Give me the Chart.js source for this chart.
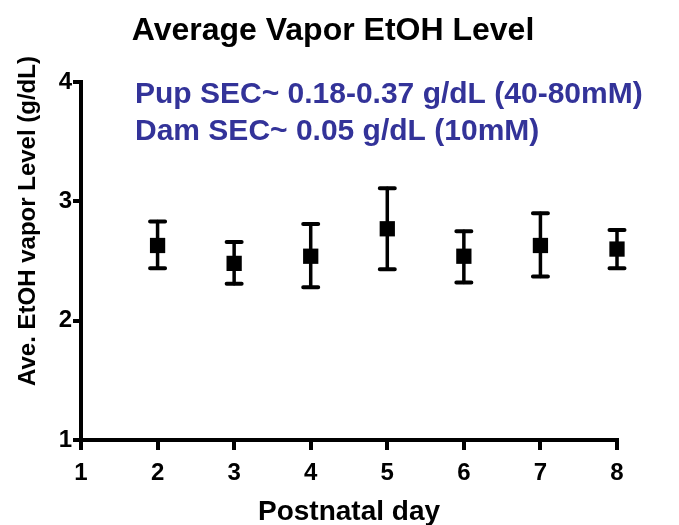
<!DOCTYPE html>
<html>
<head>
<meta charset="utf-8">
<script src="https://cdn.jsdelivr.net/npm/chart.js@4.4.1/dist/chart.umd.min.js"></script>
<style>
  html, body { margin: 0; padding: 0; background: #fff; }
  #wrap { width: 679px; height: 525px; }
</style>
</head>
<body>
<div id="wrap"><canvas id="etohChart"></canvas></div>
<script>
// postnatal days and average vapor EtOH level (g/dL)
var days = [2, 3, 4, 5, 6, 7, 8];
var means = [2.63, 2.48, 2.54, 2.77, 2.54, 2.63, 2.60];
var errTop = [2.83, 2.66, 2.81, 3.11, 2.75, 2.90, 2.76];
var errBottom = [2.44, 2.31, 2.28, 2.43, 2.32, 2.37, 2.44];
var xTicks = [1, 2, 3, 4, 5, 6, 7, 8];
var yTicks = [1, 2, 3, 4];
var noteLines = [
    'Pup SEC~ 0.18-0.37 g/dL (40-80mM)',
    'Dam SEC~ 0.05 g/dL (10mM)'
];

var FONT = "'Liberation Sans', Arial, sans-serif";

var points = days.map(function (d, i) {
    return { x: d, y: means[i] };
});

// whiskers drawn under the markers
var errorBars = {
    id: 'errorBars',
    beforeDatasetsDraw: function (chart) {
        var ctx = chart.ctx;
        var xs = chart.scales.x, ys = chart.scales.y;
        ctx.save();
        ctx.strokeStyle = '#000';
        ctx.lineCap = 'round';
        days.forEach(function (d, i) {
            var px = xs.getPixelForValue(d);
            var top = ys.getPixelForValue(errTop[i]);
            var bot = ys.getPixelForValue(errBottom[i]);
            ctx.lineWidth = 3.5;
            ctx.beginPath();
            ctx.moveTo(px, top);
            ctx.lineTo(px, bot);
            ctx.stroke();
            ctx.lineWidth = 4;
            ctx.beginPath();
            ctx.moveTo(px - 7.5, top);
            ctx.lineTo(px + 7.5, top);
            ctx.moveTo(px - 7.5, bot);
            ctx.lineTo(px + 7.5, bot);
            ctx.stroke();
        });
        ctx.restore();
    }
};

// y axis title (sits above centre in the original) and the blue note
var extraText = {
    id: 'extraText',
    afterDraw: function (chart) {
        var ctx = chart.ctx;
        ctx.save();
        ctx.fillStyle = '#000';
        ctx.font = 'bold 24px ' + FONT;
        ctx.textAlign = 'center';
        ctx.textBaseline = 'alphabetic';
        ctx.translate(35, 221);
        ctx.rotate(-Math.PI / 2);
        ctx.fillText('Ave. EtOH vapor Level (g/dL)', 0, 0);
        ctx.restore();

        ctx.save();
        ctx.fillStyle = '#333399';
        ctx.font = 'bold 30px ' + FONT;
        ctx.textAlign = 'left';
        ctx.textBaseline = 'alphabetic';
        ctx.fillText(noteLines[0], 135, 103);
        ctx.fillText(noteLines[1], 135, 140);
        ctx.restore();
    }
};

var ctxEtoh = document.getElementById('etohChart').getContext('2d');
var etohChart = new Chart(ctxEtoh, {
    type: 'scatter',
    data: {
        datasets: [{
            label: 'Average Vapor EtOH Level',
            data: points,
            backgroundColor: '#000',
            borderColor: '#000',
            pointStyle: 'rect',
            pointRadius: 10.8,
            pointHoverRadius: 10.8,
            borderWidth: 0,
            showLine: false,
            clip: false
        }]
    },
    options: {
        responsive: true,
        maintainAspectRatio: false,
        animation: false,
        layout: {
            padding: { left: 49, right: 62, top: 0, bottom: 0 }
        },
        plugins: {
            legend: { display: false },
            tooltip: { enabled: false },
            title: {
                display: true,
                text: 'Average Vapor EtOH Level',
                color: '#000',
                font: { family: FONT, size: 32, weight: 'bold' },
                padding: { top: 12, bottom: 31.6 }
            }
        },
        scales: {
            x: {
                type: 'linear',
                min: 1,
                max: 8,
                afterBuildTicks: function (axis) {
                    axis.ticks = xTicks.map(function (v) { return { value: v }; });
                },
                afterFit: function (axis) { axis.height = 85; },
                border: { display: true, color: '#000', width: 4 },
                grid: {
                    drawOnChartArea: false,
                    drawTicks: true,
                    tickLength: 10,
                    lineWidth: 4,
                    color: '#000'
                },
                ticks: {
                    color: '#000',
                    padding: 9,
                    font: { family: FONT, size: 24, weight: 'bold' }
                },
                title: {
                    display: true,
                    text: 'Postnatal day',
                    color: '#000',
                    font: { family: FONT, size: 28, weight: 'bold' },
                    padding: { top: 0, bottom: -4 }
                }
            },
            y: {
                type: 'linear',
                min: 1,
                max: 4,
                afterBuildTicks: function (axis) {
                    axis.ticks = yTicks.map(function (v) { return { value: v }; });
                },
                afterFit: function (axis) { axis.width = 32; },
                border: { display: true, color: '#000', width: 4 },
                grid: {
                    drawOnChartArea: false,
                    drawTicks: true,
                    tickLength: 8,
                    lineWidth: 4,
                    color: '#000'
                },
                ticks: {
                    color: '#000',
                    padding: 1,
                    font: { family: FONT, size: 24, weight: 'bold' }
                }
            }
        }
    },
    plugins: [errorBars, extraText]
});
</script>
</body>
</html>
